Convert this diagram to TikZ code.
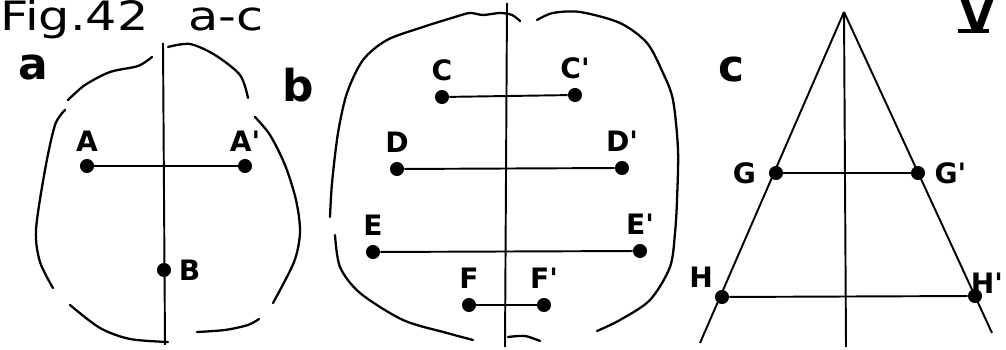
\documentclass[tikz,border=0pt]{standalone}
\usepackage{fontspec}
\setmainfont{DejaVu Sans}
\usetikzlibrary{positioning}

\newcommand{\pr}{\textquotesingle}
\newcommand{\wide}[1]{\scalebox{1.22}[1]{#1}}

\begin{document}
\begin{tikzpicture}[
  x=0.02cm, y=-0.02cm,
  every node/.style={font=\bfseries\fontsize{16}{16}\selectfont},
  dot/.style={circle, fill, inner sep=0pt, minimum size=8pt},
  lbl/.style={inner sep=1pt},
  big/.style={font=\bfseries\fontsize{25}{25}\selectfont, inner sep=0pt},
  head/.style={font=\fontsize{23}{23}\selectfont, inner sep=0pt, anchor=base},
  outline/.style={line width=1.3pt, line cap=round, line join=round},
  seg/.style={line width=1.1pt}
]
\useasboundingbox (0,0) rectangle (1006,350);
% titles
\node[head, anchor=base west] (fig) at (0,31) {\wide{Fig.42}};
\node[head]                   (rng) at (226,31) {\wide{a-c}};
\node[big] (pa) at (33,68)  {a};
\node[big] (pb) at (298,85) {b};
\node[big] (pc) at (732,70) {c};
\node[big] (num) at (977,15) {V};
\draw[line width=2.2pt] (num.south west) ++(-1pt,0pt) -- ++(0.62cm,0);

% ---- figure a ----
\coordinate (atop) at (163,43);
\coordinate (abot) at (165,345);
\node[dot] (A)  at (87,166)  {};
\node[dot] (A1) at (245,166) {};
\node[dot] (B)  at (164,270) {};
\node[lbl, above=3pt of A]  {A};
\node[lbl, above=3pt of A1] {A\pr};
\node[lbl, right=3pt of B]  {B};
\draw[seg] (atop) -- (abot);
\draw[seg] (A) -- (A1);
% outline a
\draw[outline] plot[smooth] coordinates {(152,57) (138,66) (110,72) (85,85) (68,100)};
\draw[outline] plot[smooth] coordinates {(65,110) (55,125) (45,170) (36,230) (40,262) (53,288)};
\draw[outline] plot[smooth] coordinates {(70,305) (100,328) (130,339) (168,342)};
\draw[outline] plot[smooth] coordinates {(168,47) (190,44) (215,55) (240,75) (248,98)};
\draw[outline] plot[smooth] coordinates {(255,117) (270,135) (285,165) (296,200) (300,232) (294,262) (273,303)};
\draw[outline] plot[smooth] coordinates {(197,332) (225,330) (248,325) (259,319)};

% ---- figure b ----
\coordinate (btop) at (507,3);
\coordinate (bbot) at (505,347);
\node[dot] (C)  at (442,97)  {};
\node[dot] (C1) at (575,95)  {};
\node[dot] (D)  at (397,169) {};
\node[dot] (D1) at (622,168) {};
\node[dot] (E)  at (373,252) {};
\node[dot] (E1) at (640,251) {};
\node[dot] (F)  at (469,305) {};
\node[dot] (F1) at (544,305) {};
\node[lbl, above=4pt of C]  {C};
\node[lbl, above=4pt of C1] {C\pr};
\node[lbl, above=4pt of D]  {D};
\node[lbl, above=4pt of D1] {D\pr};
\node[lbl, above=4pt of E]  {E};
\node[lbl, above=4pt of E1] {E\pr};
\node[lbl, above=4pt of F]  {F};
\node[lbl, above=4pt of F1] {F\pr};
\draw[seg] (btop) -- (bbot);
\draw[seg] (C) -- (C1);
\draw[seg] (D) -- (D1);
\draw[seg] (E) -- (E1);
\draw[seg] (F) -- (F1);
% outline b
\draw[outline] plot[smooth] coordinates {(520,21) (512,15) (500,13) (483,15) (470,13) (455,17)
  (423,27) (387,40) (363,60) (347,93) (338,133) (332,183) (330,217)};
\draw[outline] plot[smooth] coordinates {(335,235) (340,267) (360,293) (403,320) (447,333) (473,340)};
\draw[outline] plot[smooth] coordinates {(537,20) (553,13) (580,12) (620,23) (647,43) (663,73)
  (673,100) (678,150) (677,200) (675,233) (670,267) (650,300) (620,320) (597,331)};
\draw[outline] plot[smooth] coordinates {(508,337) (525,336) (540,341)};

% ---- figure c ----
\coordinate (apex) at (844,12);
\coordinate (cL)   at (700,343);
\coordinate (cR)   at (992,333);
\coordinate (cbot) at (846,347);
\node[dot] (G)  at (776,173) {};
\node[dot] (G1) at (918,173) {};
\node[dot] (H)  at (722,297) {};
\node[dot] (H1) at (975,296) {};
\node[lbl, left=6pt of G]          {G};
\node[lbl, right=4pt of G1]        {G\pr};
\node[lbl, above left=1pt and 1pt of H]   {H};
\node[lbl, anchor=east] (H1l) at (1005,283) {H\pr};
\draw[seg] (apex) -- (cbot);
\draw[seg] (apex) -- (cL);
\draw[seg] (apex) -- (cR);
\draw[seg] (G) -- (G1);
\draw[seg] (H) -- (H1);
\end{tikzpicture}
\end{document}
